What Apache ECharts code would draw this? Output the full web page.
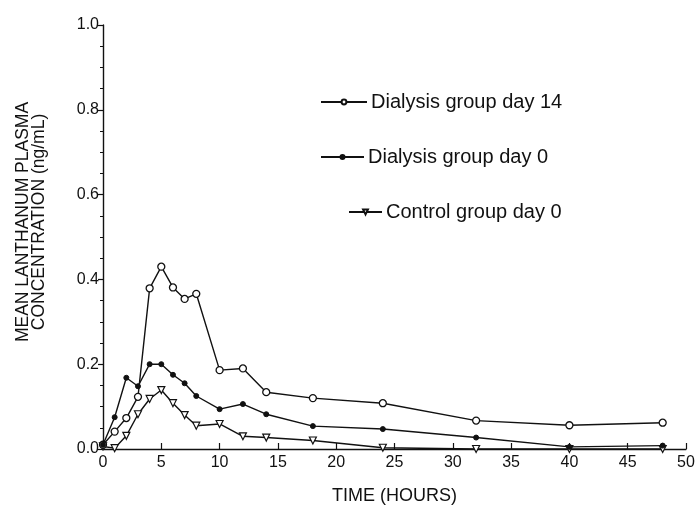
<!DOCTYPE html>
<html>
<head>
<meta charset="utf-8">
<script src="https://cdn.jsdelivr.net/npm/echarts@6/dist/echarts.min.js"></script>
<style>
  html, body { margin: 0; padding: 0; background: #fff; }
  #chart { width: 698px; height: 512px; }
</style>
</head>
<body>
<div id="chart"></div>
<script>
// Sampling times (hours)
const hours = [0, 1, 2, 3, 4, 5, 6, 7, 8, 10, 12, 14, 18, 24, 32, 40, 48];

// Mean lanthanum plasma concentration (ng/mL)
const dialysisDay14 = [0.01, 0.041, 0.073, 0.123, 0.379, 0.43, 0.381, 0.354, 0.366, 0.186, 0.19, 0.134, 0.12, 0.108, 0.067, 0.056, 0.062];
const dialysisDay0  = [0.01, 0.075, 0.168, 0.148, 0.2, 0.2, 0.175, 0.155, 0.125, 0.094, 0.106, 0.082, 0.054, 0.047, 0.027, 0.005, 0.008];
const controlDay0   = [0.006, 0.002, 0.031, 0.082, 0.118, 0.139, 0.108, 0.08, 0.055, 0.059, 0.03, 0.027, 0.02, 0.003, 0.0, 0.0, 0.0];

const seriesNames = ['Dialysis group day 14', 'Dialysis group day 0', 'Control group day 0'];
const yTicks = ['0.0', '0.2', '0.4', '0.6', '0.8', '1.0'];

const FONT = '"Liberation Sans", Arial, sans-serif';
const INK = '#111';

const pairs = (vals) => hours.map((h, i) => [h, vals[i]]);

const chart = echarts.init(document.getElementById('chart'), null, { renderer: 'canvas' });

const lineBase = {
  type: 'line',
  lineStyle: { color: INK, width: 1.4 },
  emphasis: { disabled: true },
  animation: false
};

const legendText = { fontFamily: FONT, fontSize: 20, color: INK, padding: [0, 0, 0, -1] };

chart.setOption({
  backgroundColor: '#fff',
  textStyle: { fontFamily: FONT, color: INK },
  grid: { left: 103, right: 12, top: 25, bottom: 63, containLabel: false },
  legend: [
    { data: [seriesNames[0]], left: 320, top: 92, padding: 0, itemWidth: 46, itemHeight: 6,
      textStyle: legendText },
    { data: [seriesNames[1]], left: 320, top: 147, padding: 0, itemWidth: 43, itemHeight: 5,
      textStyle: legendText },
    { data: [seriesNames[2]], left: 348, top: 202, padding: 0, itemWidth: 33, itemHeight: 6,
      textStyle: legendText }
  ],
  xAxis: {
    type: 'value',
    min: 0, max: 50, interval: 5,
    name: 'TIME (HOURS)',
    nameLocation: 'middle',
    nameGap: 38,
    nameTextStyle: { fontFamily: FONT, fontSize: 18, color: INK },
    axisLine: { show: true, lineStyle: { color: INK, width: 1.4 } },
    axisTick: { show: true, inside: true, length: 6, lineStyle: { color: INK, width: 1.2 } },
    axisLabel: { fontFamily: FONT, fontSize: 16, color: INK, margin: 6 },
    splitLine: { show: false }
  },
  yAxis: {
    type: 'value',
    min: 0, max: 1, interval: 0.2,
    name: 'MEAN LANTHANUM PLASMA\nCONCENTRATION (ng/mL)',
    nameLocation: 'middle',
    nameRotate: 90,
    nameGap: 56,
    nameTextStyle: { fontFamily: FONT, fontSize: 17.5, color: INK, lineHeight: 16, padding: [0, 0, 0, 30] },
    axisLine: { show: true, lineStyle: { color: INK, width: 1.4 } },
    axisTick: { show: true, length: 5, lineStyle: { color: INK, width: 1.2 } },
    minorTick: { show: true, splitNumber: 4, length: 3, lineStyle: { color: INK, width: 1 } },
    axisLabel: {
      fontFamily: FONT, fontSize: 16, color: INK, margin: 4,
      formatter: (v) => yTicks[Math.round(v / 0.2)]
    },
    splitLine: { show: false }
  },
  series: [
    Object.assign({}, lineBase, {
      name: seriesNames[0],
      data: pairs(dialysisDay14),
      symbol: 'circle', symbolSize: 7,
      itemStyle: { color: '#fff', borderColor: INK, borderWidth: 1.3 },
      z: 3
    }),
    Object.assign({}, lineBase, {
      name: seriesNames[1],
      data: pairs(dialysisDay0),
      symbol: 'circle', symbolSize: 5,
      itemStyle: { color: INK, borderColor: INK, borderWidth: 1 },
      z: 4
    }),
    Object.assign({}, lineBase, {
      name: seriesNames[2],
      data: pairs(controlDay0),
      symbol: 'triangle', symbolSize: 7, symbolRotate: 180,
      itemStyle: { color: '#fff', borderColor: INK, borderWidth: 1.2 },
      z: 2
    })
  ]
});
</script>
</body>
</html>
